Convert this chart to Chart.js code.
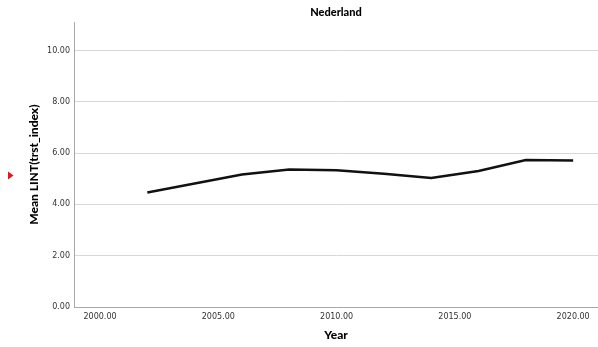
<!DOCTYPE html>
<html>
<head>
<meta charset="utf-8">
<script src="https://cdn.jsdelivr.net/npm/chart.js@4/dist/chart.umd.min.js"></script>
<style>
  html, body { margin: 0; padding: 0; background: #fff; }
  #wrap { width: 598px; height: 347px; position: relative; }
</style>
</head>
<body>
<div id="wrap"><canvas id="chart"></canvas></div>
<script>
const years = [2002, 2004, 2006, 2008, 2010, 2012, 2014, 2016, 2018, 2020];
const trst_means = [4.46, 4.81, 5.16, 5.36, 5.33, 5.19, 5.03, 5.30, 5.73, 5.71];
const x_ticks = [2000, 2005, 2010, 2015, 2020];
const y_ticks = [0, 2, 4, 6, 8, 10];

const tick_font = { family: "DejaVu Sans", size: 8 };
const title_font = { family: "Lato", size: 12, weight: "bold" };

// small red marker at the left edge of the picture
const markerPlugin = {
  id: "marker",
  afterDraw(chart) {
    const ctx = chart.ctx;
    ctx.save();
    ctx.fillStyle = "#e8141b";
    ctx.beginPath();
    ctx.moveTo(8, 171.5);
    ctx.lineTo(13.5, 175.5);
    ctx.lineTo(8, 179.5);
    ctx.closePath();
    ctx.fill();
    ctx.restore();
  }
};

const points = years.map((y, i) => ({ x: y, y: trst_means[i] }));

new Chart(document.getElementById("chart").getContext("2d"), {
  type: "line",
  data: {
    datasets: [{
      data: points,
      borderColor: "#111111",
      borderWidth: 2.5,
      pointRadius: 0,
      fill: false,
      tension: 0
    }]
  },
  options: {
    responsive: true,
    maintainAspectRatio: false,
    animation: false,
    layout: { padding: { top: 0, right: 0, bottom: 0, left: 0 } },
    plugins: {
      legend: { display: false },
      tooltip: { enabled: false },
      title: {
        display: true,
        text: "Nederland",
        fullSize: false,
        color: "#000",
        font: { family: "Lato", size: 11, weight: "900" },
        padding: { top: 6, bottom: 3 }
      }
    },
    scales: {
      x: {
        type: "linear",
        min: 1998.9,
        max: 2021.05,
        afterBuildTicks: (scale) => { scale.ticks = x_ticks.map(v => ({ value: v })); },
        afterFit: (scale) => { scale.height = 40; },
        grid: { display: false, drawTicks: false },
        border: { display: true, color: "#a8a8a8", width: 1 },
        ticks: {
          padding: 5,
          color: "#333",
          font: tick_font,
          maxRotation: 0,
          callback: (v) => Number(v).toFixed(2)
        },
        title: {
          display: true,
          text: "Year",
          color: "#000",
          font: { family: "Lato", size: 12, weight: "900" },
          padding: { top: 0, bottom: 5 }
        }
      },
      y: {
        min: 0,
        max: 11.1,
        afterBuildTicks: (scale) => { scale.ticks = y_ticks.map(v => ({ value: v })); },
        afterFit: (scale) => { scale.width = 74; },
        grid: { color: "#d8d8d8", lineWidth: 1, drawTicks: false },
        border: { display: true, color: "#a8a8a8", width: 1 },
        ticks: {
          padding: 4,
          color: "#333",
          font: tick_font,
          callback: (v) => Number(v).toFixed(2)
        },
        title: {
          display: true,
          text: "Mean LINT(trst_index)",
          color: "#000",
          font: { family: "Lato", size: 12, weight: "900" },
          padding: { top: 27, bottom: 0 }
        }
      }
    }
  },
  plugins: [markerPlugin]
});
</script>
</body>
</html>
